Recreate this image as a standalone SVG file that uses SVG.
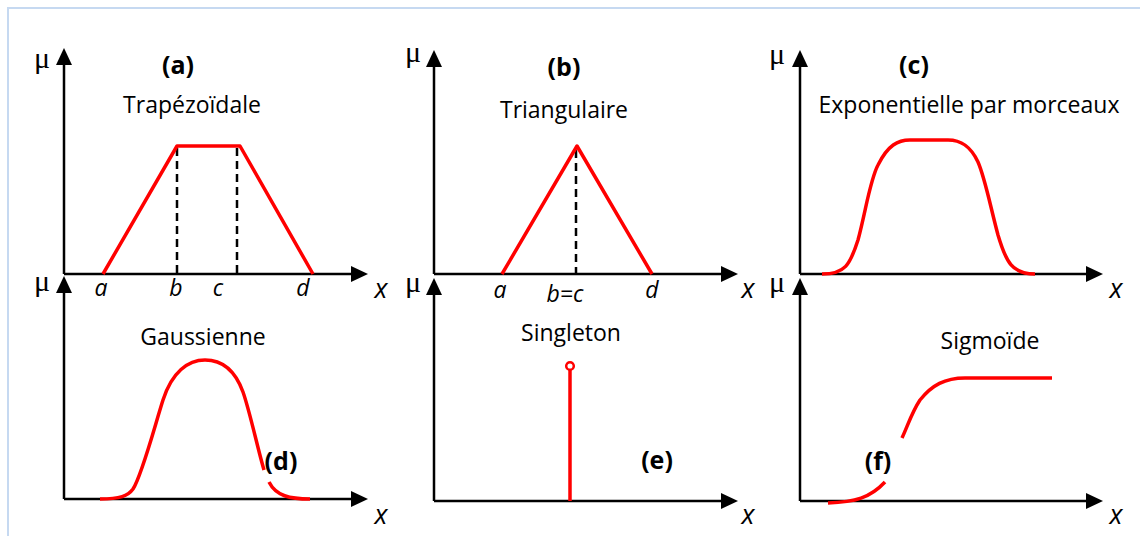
<svg xmlns="http://www.w3.org/2000/svg" width="1140" height="536" viewBox="0 0 1140 536">
<style>
.ax{stroke:#000;stroke-width:2.5;fill:none}
.ah{fill:#000}
.cv{stroke:#ff0000;stroke-width:3.5;fill:none;stroke-linecap:butt;stroke-linejoin:round}
.ds{stroke:#000;stroke-width:2.5;stroke-dasharray:8 5;fill:none}
.t{font-family:"Open Sans","Liberation Sans",sans-serif;font-size:23px;fill:#000;text-anchor:middle}
.b{font-family:"Open Sans","Liberation Sans",sans-serif;font-size:25px;font-weight:bold;fill:#000;text-anchor:middle}
.i{font-family:"Open Sans","Liberation Sans",sans-serif;font-size:23px;font-style:italic;fill:#000;text-anchor:middle}
.xl{font-family:"Open Sans","Liberation Sans",sans-serif;font-size:27px;font-style:italic;fill:#000;text-anchor:middle}
.mu{font-family:"Liberation Serif",serif;font-size:30px;fill:#000;text-anchor:middle}
</style>
<defs>
<path id="up" d="M0,0 L-8,17 L8,17 Z"/>
<path id="rt" d="M0,0 L-17,-8 L-17,8 Z"/>
</defs>
<rect width="1140" height="536" fill="#fff"/>
<path d="M8,536 L8,8 L1140,8" stroke="#c6d9f1" stroke-width="2" fill="none"/>
<g id="connectors">
<path class="ax" d="M64,274 L64,62 M64,274 L352,274"/>
<use href="#up" x="64" y="48" class="ah"/><use href="#rt" x="368" y="274" class="ah"/>
<path class="ax" d="M434,274 L434,64 M434,274 L722,274"/>
<use href="#up" x="434" y="50" class="ah"/><use href="#rt" x="738" y="274" class="ah"/>
<path class="ax" d="M800,274 L800,64 M800,274 L1087,274"/>
<use href="#up" x="800" y="50" class="ah"/><use href="#rt" x="1103" y="274" class="ah"/>
<path class="ax" d="M64,499 L64,290 M64,499 L352,499"/>
<use href="#up" x="64" y="276" class="ah"/><use href="#rt" x="368" y="499" class="ah"/>
<path class="ax" d="M434,501 L434,292 M434,501 L722,501"/>
<use href="#up" x="434" y="278" class="ah"/><use href="#rt" x="738" y="501" class="ah"/>
<path class="ax" d="M800,501 L800,292 M800,501 L1087,501"/>
<use href="#up" x="800" y="278" class="ah"/><use href="#rt" x="1103" y="501" class="ah"/>
</g>
<g id="panel-a">
<text class="mu" x="42" y="68">μ</text>
<text class="b" x="178" y="74">(a)</text>
<text class="t" x="192" y="113">Trapézoïdale</text>
<path class="ds" d="M177,148 L177,274 M237,148 L237,274"/>
<path class="cv" d="M103,274 L177,146 L240,146 L313,274"/>
<text class="i" x="101" y="296">a</text>
<text class="i" x="176" y="296">b</text>
<text class="i" x="218" y="296">c</text>
<text class="i" x="303" y="296">d</text>
<text class="xl" x="381" y="298">x</text>
</g>
<g id="panel-b">
<text class="mu" x="413" y="62">μ</text>
<text class="b" x="564" y="76">(b)</text>
<text class="t" x="564" y="118">Triangulaire</text>
<path class="ds" d="M576,150 L576,274"/>
<path class="cv" d="M502,274 L577,146 L652,274"/>
<text class="i" x="500" y="298">a</text>
<text class="i" x="565" y="302">b=c</text>
<text class="i" x="652" y="298">d</text>
<text class="xl" x="748" y="298">x</text>
</g>
<g id="panel-c">
<text class="mu" x="777" y="64">μ</text>
<text class="b" x="914" y="74">(c)</text>
<text class="t" x="969" y="113">Exponentielle par morceaux</text>
<path class="cv" d="M822,274 C845,274 850,265 858,240 C866,210 870,180 878,165 C888,145 898,140 910,140 L948,140 C960,140 970,145 978,162 C985,178 990,205 998,235 C1006,262 1012,274 1035,274"/>
<text class="xl" x="1116" y="298">x</text>
</g>
<g id="panel-d">
<text class="mu" x="42" y="291">μ</text>
<text class="t" x="203" y="345">Gaussienne</text>
<path class="cv" d="M100,499 C120,499 128,496 133,489 C142,475 155,425 163,400 C172,372 188,360 205,360 C222,360 235,370 243,392 C250,412 258,450 264,470"/>
<path class="cv" d="M269,482 C276,496 290,499 310,499"/>
<text class="b" x="281" y="470">(d)</text>
<text class="xl" x="381" y="524">x</text>
</g>
<g id="panel-e">
<text class="mu" x="413" y="292">μ</text>
<text class="t" x="571" y="341">Singleton</text>
<path class="cv" d="M570,370 L570,501"/>
<circle cx="570" cy="366" r="3.8" fill="#fff" stroke="#ff0000" stroke-width="2.5"/>
<text class="b" x="657" y="469">(e)</text>
<text class="xl" x="748" y="524">x</text>
</g>
<g id="panel-f">
<text class="mu" x="777" y="292">μ</text>
<text class="t" x="990" y="349">Sigmoïde</text>
<path class="cv" d="M828,503 C855,502 870,498 885,482"/>
<path class="cv" d="M902,438 C908,425 912,412 920,400 C932,385 945,378 965,378 L1052,378"/>
<text class="b" x="878" y="470">(f)</text>
<text class="xl" x="1116" y="524">x</text>
</g>
</svg>
